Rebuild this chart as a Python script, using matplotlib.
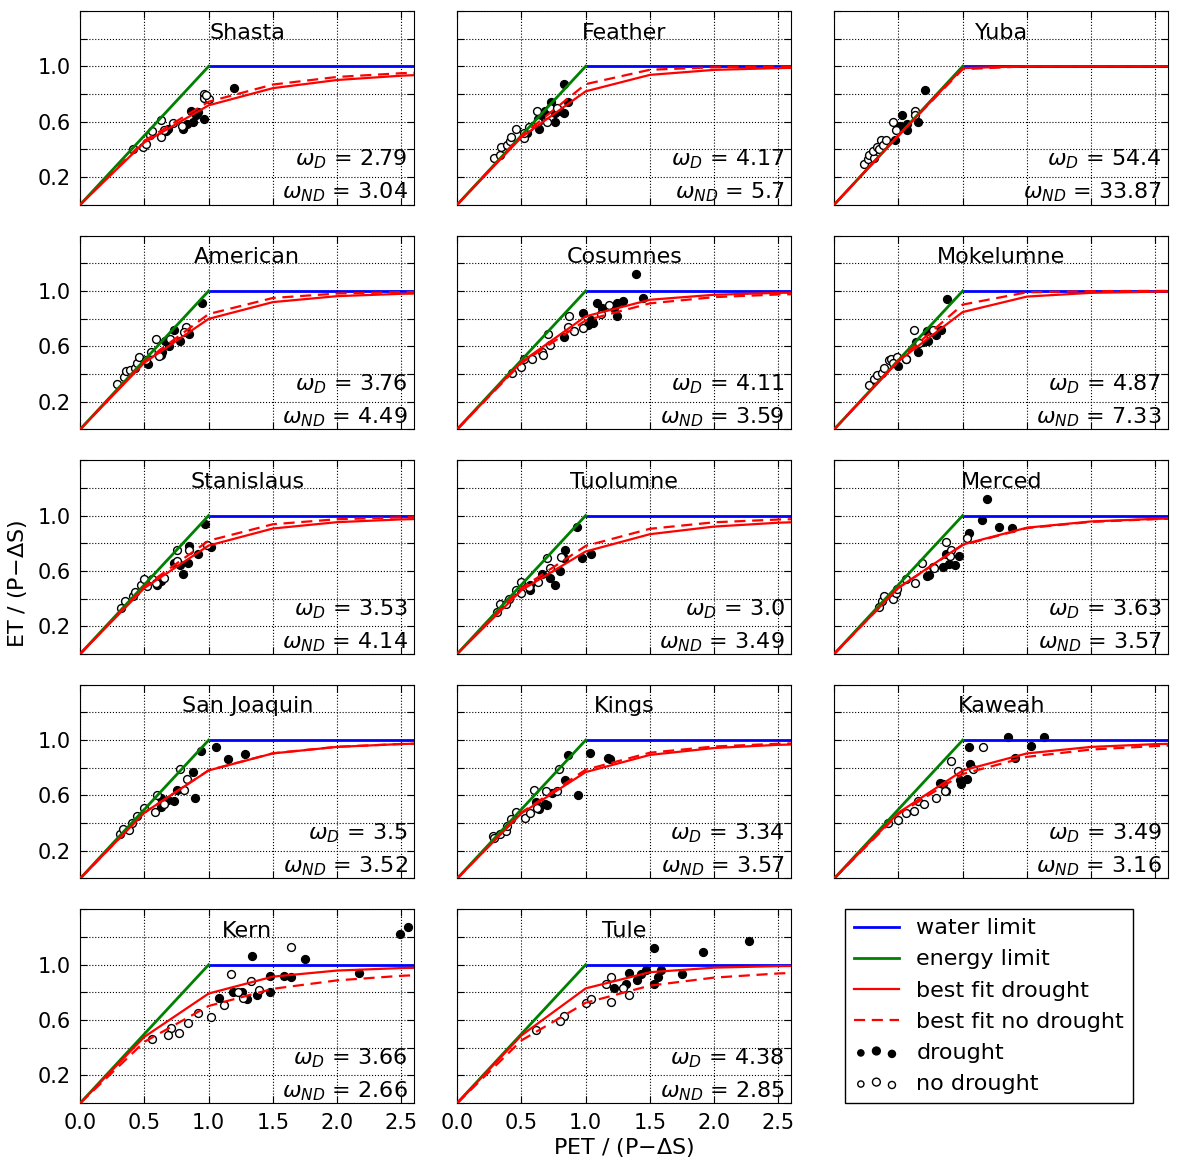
import numpy as np
import matplotlib
matplotlib.use('Agg')
import matplotlib.pyplot as plt
from matplotlib.collections import PathCollection
from matplotlib.legend_handler import HandlerPathCollection

# basins and fitted Fu parameters
basins = ['Shasta', 'Feather', 'Yuba', 'American', 'Cosumnes', 'Mokelumne',
          'Stanislaus', 'Tuolumne', 'Merced', 'San Joaquin', 'Kings', 'Kaweah',
          'Kern', 'Tule']
w_drought = ['2.79', '4.17', '54.4', '3.76', '4.11', '4.87', '3.53', '3.0',
             '3.63', '3.5', '3.34', '3.49', '3.66', '4.38']
w_nodrought = ['3.04', '5.7', '33.87', '4.49', '3.59', '7.33', '4.14', '3.49',
               '3.57', '3.52', '3.57', '3.16', '2.66', '2.85']

# best fit curves sampled at pet_grid
pet_grid = [0.0, 0.5, 1.0, 1.5, 2.0, 2.5, 3.0]
fit_drought = [
    [0, 0.450, 0.718, 0.842, 0.901, 0.932, 0.951],
    [0, 0.487, 0.819, 0.938, 0.974, 0.987, 0.993],
    [0, 0.500, 0.987, 1.000, 1.000, 1.000, 1.000],
    [0, 0.481, 0.798, 0.919, 0.962, 0.979, 0.987],
    [0, 0.486, 0.816, 0.936, 0.972, 0.986, 0.992],
    [0, 0.493, 0.847, 0.959, 0.986, 0.994, 0.997],
    [0, 0.476, 0.783, 0.906, 0.952, 0.972, 0.983],
    [0, 0.460, 0.740, 0.865, 0.920, 0.948, 0.963],
    [0, 0.478, 0.790, 0.912, 0.957, 0.976, 0.985],
    [0, 0.476, 0.781, 0.904, 0.951, 0.972, 0.982],
    [0, 0.471, 0.769, 0.893, 0.943, 0.966, 0.977],
    [0, 0.475, 0.780, 0.904, 0.951, 0.971, 0.982],
    [0, 0.479, 0.792, 0.914, 0.958, 0.976, 0.985],
    [0, 0.489, 0.829, 0.946, 0.979, 0.990, 0.995],
]
fit_nodrought = [
    [0, 0.462, 0.744, 0.868, 0.923, 0.950, 0.965],
    [0, 0.497, 0.871, 0.975, 0.993, 0.998, 0.999],
    [0, 0.500, 0.979, 1.000, 1.000, 1.000, 1.000],
    [0, 0.490, 0.833, 0.949, 0.981, 0.991, 0.995],
    [0, 0.478, 0.787, 0.910, 0.955, 0.974, 0.984],
    [0, 0.499, 0.901, 0.990, 0.998, 1.000, 1.000],
    [0, 0.487, 0.818, 0.937, 0.973, 0.987, 0.992],
    [0, 0.475, 0.780, 0.904, 0.951, 0.971, 0.982],
    [0, 0.477, 0.786, 0.909, 0.954, 0.974, 0.984],
    [0, 0.476, 0.782, 0.905, 0.952, 0.972, 0.982],
    [0, 0.477, 0.786, 0.909, 0.954, 0.974, 0.984],
    [0, 0.466, 0.755, 0.879, 0.932, 0.957, 0.971],
    [0, 0.443, 0.702, 0.826, 0.887, 0.920, 0.940],
    [0, 0.453, 0.725, 0.849, 0.907, 0.937, 0.955],
]

# observed years, drought
drought_pet = [
    [1.20, 0.86, 0.92, 0.88, 0.96, 0.80, 0.83, 0.67, 0.68, 0.90],
    [0.83, 0.73, 0.68, 0.65, 0.63, 0.76, 0.83, 0.86, 0.76, 0.64, 0.54, 0.52, 0.80],
    [0.71, 0.53, 0.50, 0.57, 0.57, 0.65, 0.47, 0.51],
    [0.95, 0.73, 0.66, 0.78, 0.85, 0.64, 0.53, 0.63, 0.69],
    [1.39, 0.98, 1.04, 1.02, 1.06, 0.83, 1.09, 1.13, 1.24, 1.24, 1.29, 1.45, 1.22],
    [0.88, 0.50, 0.56, 0.65, 0.64, 0.72, 0.73, 0.79, 0.83, 0.69],
    [0.97, 0.85, 0.92, 1.02, 0.84, 0.78, 0.80, 0.60, 0.63, 0.73],
    [0.93, 0.84, 0.83, 0.97, 1.04, 0.80, 0.72, 0.76, 0.66, 0.57, 0.57],
    [1.19, 1.15, 1.28, 1.38, 1.05, 0.97, 0.94, 0.89, 0.85, 0.77, 0.74, 0.72, 0.87],
    [0.94, 1.06, 1.15, 1.28, 0.88, 0.89, 0.75, 0.73, 0.63, 0.63, 0.68],
    [0.86, 1.03, 1.17, 1.19, 0.84, 0.94, 0.74, 0.70, 0.64, 0.61, 0.68],
    [1.35, 1.63, 1.53, 1.41, 1.05, 1.06, 1.03, 0.99, 0.98, 0.82, 0.85, 0.87],
    [2.55, 2.49, 1.34, 1.75, 2.17, 1.48, 1.59, 1.64, 1.08, 1.19, 1.26, 1.30, 1.38, 1.48],
    [2.27, 1.91, 1.53, 1.75, 1.34, 1.43, 1.47, 1.53, 1.59, 1.56, 1.40, 1.31, 1.22],
]
drought_et = [
    [0.84, 0.68, 0.67, 0.60, 0.62, 0.55, 0.58, 0.53, 0.55, 0.65],
    [0.87, 0.74, 0.68, 0.65, 0.62, 0.66, 0.66, 0.74, 0.60, 0.55, 0.52, 0.50, 0.68],
    [0.83, 0.65, 0.56, 0.58, 0.54, 0.60, 0.47, 0.57],
    [0.91, 0.72, 0.64, 0.64, 0.69, 0.56, 0.47, 0.54, 0.60],
    [1.12, 0.84, 0.79, 0.75, 0.77, 0.67, 0.91, 0.88, 0.91, 0.82, 0.93, 0.95, 0.88],
    [0.94, 0.46, 0.51, 0.56, 0.63, 0.71, 0.64, 0.68, 0.72, 0.63],
    [0.94, 0.78, 0.72, 0.77, 0.66, 0.64, 0.58, 0.50, 0.53, 0.66],
    [0.92, 0.75, 0.69, 0.69, 0.72, 0.60, 0.55, 0.50, 0.58, 0.46, 0.50],
    [1.12, 0.97, 0.92, 0.91, 0.87, 0.71, 0.64, 0.65, 0.63, 0.63, 0.57, 0.56, 0.72],
    [0.92, 0.95, 0.86, 0.90, 0.77, 0.58, 0.64, 0.56, 0.58, 0.52, 0.57],
    [0.89, 0.91, 0.87, 0.86, 0.71, 0.60, 0.62, 0.53, 0.50, 0.55, 0.54],
    [1.02, 1.02, 0.96, 0.87, 0.95, 0.83, 0.72, 0.68, 0.71, 0.69, 0.68, 0.63],
    [1.27, 1.22, 1.06, 1.04, 0.94, 0.92, 0.92, 0.91, 0.76, 0.80, 0.80, 0.75, 0.78, 0.80],
    [1.17, 1.09, 1.12, 0.93, 0.94, 0.93, 0.96, 0.86, 0.96, 0.91, 0.89, 0.86, 0.83],
]

# observed years, no drought
nodrought_pet = [
    [0.41, 0.49, 0.51, 0.54, 0.56, 0.63, 0.63, 0.65, 0.72, 0.79, 0.96, 0.96, 1.00, 0.98],
    [0.29, 0.33, 0.34, 0.39, 0.41, 0.42, 0.46, 0.52, 0.52, 0.56, 0.62, 0.63, 0.70, 0.72, 0.78],
    [0.23, 0.26, 0.27, 0.31, 0.30, 0.33, 0.35, 0.36, 0.38, 0.40, 0.46, 0.48, 0.63, 0.63],
    [0.29, 0.34, 0.36, 0.39, 0.43, 0.44, 0.46, 0.51, 0.55, 0.59, 0.61, 0.70, 0.82, 0.81],
    [0.43, 0.50, 0.52, 0.58, 0.66, 0.67, 0.72, 0.71, 0.86, 0.87, 0.91, 0.98, 1.12, 1.18],
    [0.27, 0.31, 0.33, 0.37, 0.39, 0.43, 0.44, 0.49, 0.46, 0.56, 0.62, 0.69, 0.77, 0.66],
    [0.32, 0.35, 0.41, 0.43, 0.47, 0.50, 0.52, 0.56, 0.65, 0.59, 0.75, 0.75, 0.85, 0.99],
    [0.31, 0.33, 0.40, 0.38, 0.46, 0.50, 0.50, 0.56, 0.63, 0.70, 0.72, 0.81],
    [0.35, 0.37, 0.39, 0.46, 0.48, 0.49, 0.56, 0.63, 0.68, 0.78, 0.87, 0.91, 0.90, 1.03],
    [0.31, 0.33, 0.38, 0.40, 0.44, 0.50, 0.58, 0.60, 0.65, 0.81, 0.83, 0.78],
    [0.28, 0.29, 0.33, 0.38, 0.39, 0.42, 0.46, 0.53, 0.57, 0.62, 0.60, 0.69, 0.78, 0.79],
    [0.42, 0.50, 0.56, 0.62, 0.65, 0.70, 0.79, 0.86, 0.96, 0.91, 1.08, 1.16],
    [1.64, 1.17, 1.33, 1.39, 1.12, 1.02, 0.92, 0.84, 0.77, 0.71, 0.68, 0.56, 1.27, 1.23],
    [0.61, 0.83, 0.80, 1.00, 1.04, 1.16, 1.20, 1.29, 1.34, 1.20],
]
nodrought_et = [
    [0.40, 0.42, 0.44, 0.50, 0.53, 0.61, 0.49, 0.54, 0.59, 0.57, 0.80, 0.77, 0.76, 0.79],
    [0.34, 0.36, 0.42, 0.43, 0.46, 0.49, 0.55, 0.48, 0.52, 0.56, 0.68, 0.60, 0.60, 0.70, 0.70],
    [0.29, 0.33, 0.36, 0.34, 0.39, 0.42, 0.40, 0.47, 0.43, 0.47, 0.60, 0.54, 0.68, 0.65],
    [0.33, 0.38, 0.42, 0.43, 0.44, 0.48, 0.52, 0.50, 0.56, 0.65, 0.53, 0.65, 0.74, 0.70],
    [0.41, 0.45, 0.51, 0.51, 0.56, 0.54, 0.61, 0.69, 0.74, 0.82, 0.71, 0.73, 0.83, 0.90],
    [0.32, 0.36, 0.39, 0.41, 0.44, 0.50, 0.51, 0.52, 0.48, 0.51, 0.72, 0.66, 0.72, 0.62],
    [0.33, 0.38, 0.42, 0.45, 0.50, 0.54, 0.49, 0.54, 0.55, 0.51, 0.75, 0.67, 0.75, 0.79],
    [0.30, 0.36, 0.40, 0.36, 0.46, 0.52, 0.44, 0.48, 0.52, 0.69, 0.62, 0.70],
    [0.34, 0.38, 0.42, 0.40, 0.44, 0.47, 0.54, 0.51, 0.66, 0.62, 0.81, 0.75, 0.71, 0.84],
    [0.32, 0.36, 0.35, 0.40, 0.45, 0.51, 0.48, 0.60, 0.54, 0.64, 0.72, 0.79],
    [0.31, 0.29, 0.32, 0.34, 0.38, 0.43, 0.48, 0.44, 0.47, 0.51, 0.64, 0.63, 0.63, 0.79],
    [0.40, 0.42, 0.47, 0.49, 0.56, 0.54, 0.58, 0.63, 0.78, 0.85, 0.79, 0.95],
    [1.13, 0.93, 0.88, 0.82, 0.71, 0.62, 0.65, 0.58, 0.51, 0.54, 0.49, 0.46, 0.76, 0.80],
    [0.53, 0.63, 0.59, 0.72, 0.75, 0.86, 0.73, 0.83, 0.78, 0.91],
]

plt.rcParams['font.family'] = 'DejaVu Sans'
plt.rcParams['mathtext.fontset'] = 'dejavusans'

fig, axes = plt.subplots(5, 3, figsize=(11.8, 11.67), dpi=100)
fig.subplots_adjust(left=0.068, right=0.99, top=0.9906, bottom=0.0548,
                    wspace=0.129, hspace=0.16)

ylab = ['', '0.2', '', '0.6', '', '1.0', '', '']
for i, ax in enumerate(axes.flat):
    if i >= len(basins):
        ax.axis('off')
        continue
    row, col = divmod(i, 3)
    ax.scatter(drought_pet[i], drought_et[i], s=32, c='k', edgecolors='k',
               linewidths=1, zorder=2, label='drought')
    ax.scatter(nodrought_pet[i], nodrought_et[i], s=32, c='w', edgecolors='k',
               linewidths=1, zorder=2, label='no drought')
    ax.plot([1, 3], [1, 1], color='b', lw=2, zorder=3, label='water limit')
    ax.plot([0, 1], [0, 1], color='g', lw=2, zorder=3, label='energy limit')
    ax.plot(pet_grid, fit_drought[i], color='r', lw=1.6, zorder=4,
            label='best fit drought')
    ax.plot(pet_grid, fit_nodrought[i], color='r', lw=1.6, ls='--',
            dashes=(5, 3), zorder=4, label='best fit no drought')
    ax.set_xlim(0, 2.6)
    ax.set_ylim(0, 1.4)
    ax.set_xticks([0, 0.5, 1.0, 1.5, 2.0, 2.5])
    ax.set_yticks(np.arange(0, 1.41, 0.2))
    ax.grid(True, color='k', ls=':', lw=0.8)
    ax.set_axisbelow(True)
    ax.tick_params(direction='in', top=True, right=True, length=5,
                   labelsize=15, pad=7)
    if col == 0:
        ax.set_yticklabels(ylab)
    else:
        ax.set_yticklabels([])
    if i in (12, 13):
        ax.set_xticklabels(['0.0', '0.5', '1.0', '1.5', '2.0', '2.5'])
    else:
        ax.set_xticklabels([])
    ax.text(0.5, 0.94, basins[i], transform=ax.transAxes, ha='center',
            va='top', fontsize=16)
    ax.text(0.98, 0.20, r'$\omega_D$ = ' + w_drought[i], transform=ax.transAxes,
            ha='right', va='baseline', fontsize=16)
    ax.text(0.98, 0.03, r'$\omega_{ND}$ = ' + w_nodrought[i],
            transform=ax.transAxes, ha='right', va='baseline', fontsize=16)

handles, labels = axes.flat[0].get_legend_handles_labels()
order = [2, 3, 4, 5, 0, 1]
leg = axes.flat[14].legend([handles[k] for k in order], [labels[k] for k in order],
                           loc='upper left', bbox_to_anchor=(0.033, 1.0),
                           fontsize=16, scatterpoints=3,
                           scatteryoffsets=[0.375, 0.5, 0.3125],
                           fancybox=False, framealpha=1, borderaxespad=0,
                           handler_map={PathCollection: HandlerPathCollection(sizes=[20, 32, 26])})
leg.get_frame().set_edgecolor('k')
leg.get_frame().set_linewidth(1)

fig.text(0.015, 0.5, r'ET / (P$-\Delta$S)', rotation=90, ha='center',
         va='center', fontsize=16)
fig.text(0.529, 0.017, r'PET / (P$-\Delta$S)', ha='center', va='center',
         fontsize=16)

fig.savefig('out.png', dpi=100, facecolor='w')
